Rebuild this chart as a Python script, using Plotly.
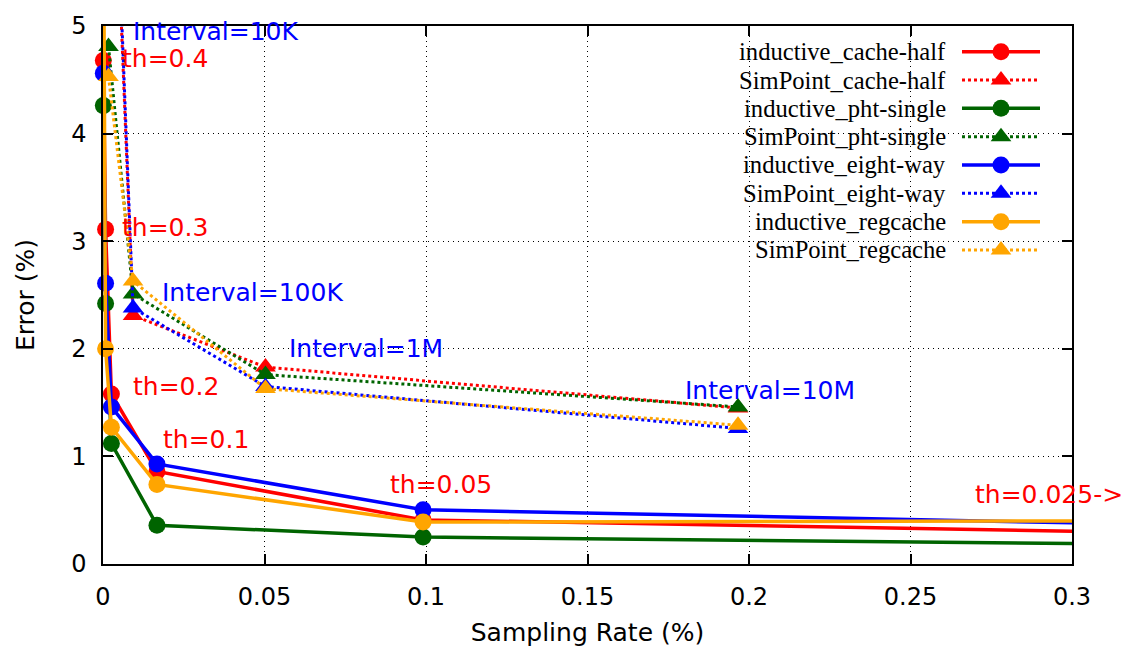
import plotly.graph_objects as go

# ---------------- data ----------------
th_rate = [0.0001, 0.0008, 0.0026, 0.0167, 0.0991, 0.5]
ind_cache_half = [4.68, 3.11, 1.58, 0.86, 0.41, 0.20]
ind_pht_single = [4.26, 2.42, 1.12, 0.36, 0.25, 0.13]
ind_eight_way = [4.56, 2.61, 1.46, 0.93, 0.505, 0.26]
ind_regcache = [6.5, 2.00, 1.27, 0.74, 0.39, 0.41]

sp_rate = [0.0017, 0.0093, 0.0503, 0.1966]
sp_cache_half = [8.0, 2.31, 1.83, 1.45]
sp_pht_single = [4.81, 2.51, 1.76, 1.46]
sp_eight_way = [8.2, 2.38, 1.65, 1.26]
sp_regcache = [4.53, 2.63, 1.63, 1.29]

x_ticks = [0, 0.05, 0.1, 0.15, 0.2, 0.25, 0.3]
x_ticklabels = ["0", "0.05", "0.1", "0.15", "0.2", "0.25", "0.3"]
y_ticks = [0, 1, 2, 3, 4, 5]
y_ticklabels = ["0", "1", "2", "3", "4", "5"]

series = [
    ("inductive_cache-half", th_rate, ind_cache_half, "#ff0000", "solid"),
    ("SimPoint_cache-half", sp_rate, sp_cache_half, "#ff0000", "dot"),
    ("inductive_pht-single", th_rate, ind_pht_single, "#006400", "solid"),
    ("SimPoint_pht-single", sp_rate, sp_pht_single, "#006400", "dot"),
    ("inductive_eight-way", th_rate, ind_eight_way, "#0000ff", "solid"),
    ("SimPoint_eight-way", sp_rate, sp_eight_way, "#0000ff", "dot"),
    ("inductive_regcache", th_rate, ind_regcache, "#ffa500", "solid"),
    ("SimPoint_regcache", sp_rate, sp_regcache, "#ffa500", "dot"),
]

labels = [
    ("Interval=10K", 0.0088, 4.95, "#0000ff"),
    ("th=0.4", 0.0054, 4.70, "#ff0000"),
    ("th=0.3", 0.0054, 3.13, "#ff0000"),
    ("Interval=100K", 0.0175, 2.52, "#0000ff"),
    ("Interval=1M", 0.0569, 2.00, "#0000ff"),
    ("th=0.2", 0.0088, 1.65, "#ff0000"),
    ("th=0.1", 0.0181, 1.16, "#ff0000"),
    ("th=0.05", 0.0881, 0.74, "#ff0000"),
    ("Interval=10M", 0.1795, 1.61, "#0000ff"),
    ("th=0.025->", 0.2693, 0.65, "#ff0000"),
]

# ---------------- layout constants ----------------
W, H = 1128, 655
ML, MR, MT, MB = 103, 56, 19, 91
SANS = "DejaVu Sans"
SERIF = "Liberation Serif"
DOT = "3px,3px"
SOLID_W, DOT_W = 3.5, 3
CIRC, TRI = 17, 18

fig = go.Figure()

for name, xs, ys, col, style in series:
    solid = style == "solid"
    fig.add_trace(go.Scatter(
        x=xs, y=ys, name=name, mode="lines+markers",
        line=dict(color=col, width=SOLID_W if solid else DOT_W, dash="solid" if solid else DOT),
        marker=dict(symbol="circle" if solid else "triangle-up", size=CIRC if solid else TRI,
                    color=col, opacity=1, line=dict(width=0)),
        cliponaxis=False, showlegend=False,
    ))

for text, lx, ly, col in labels:
    fig.add_annotation(x=lx, y=ly, xref="x", yref="y", text=text, showarrow=False,
                       xanchor="left", yanchor="middle",
                       font=dict(family=SANS, size=25, color=col))

# opaque key box (covers grid)
fig.add_shape(type="rect", xref="paper", yref="paper",
              x0=(629 - ML) / (W - ML - MR), x1=1.0,
              y0=(H - MB - 263) / (H - MT - MB), y1=1.0,
              fillcolor="white", line=dict(width=0), layer="between")

# custom key (pixel-unit overlay axes)
KEY_TEXT_X = 948
KEY_L0, KEY_L1 = 962, 1040
KEY_Y0, KEY_DY = 45, 28.7
for i, (name, xs, ys, col, style) in enumerate(series):
    ry = KEY_Y0 + i * KEY_DY
    solid = style == "solid"
    fig.add_trace(go.Scatter(
        x=[KEY_L0, (KEY_L0 + KEY_L1) / 2, KEY_L1], y=[ry, ry, ry],
        xaxis="x2", yaxis="y2", mode="lines+markers", showlegend=False, hoverinfo="skip",
        line=dict(color=col, width=SOLID_W if solid else DOT_W, dash="solid" if solid else DOT),
        marker=dict(symbol="circle" if solid else "triangle-up",
                    size=[0, CIRC if solid else TRI, 0],
                    color=col, opacity=1, line=dict(width=0)),
        cliponaxis=False,
    ))
    fig.add_annotation(x=KEY_TEXT_X, y=ry, xref="x2", yref="y2", text=name, showarrow=False,
                       xanchor="right", yanchor="middle",
                       font=dict(family=SERIF, size=24.6, color="black"))

axis_common = dict(
    showline=True, linecolor="black", linewidth=1.5, mirror="allticks",
    ticks="inside", ticklen=10, tickwidth=1.5, tickcolor="black",
    showgrid=True, gridcolor="black", gridwidth=1, griddash="1px,4px",
    zeroline=False, tickfont=dict(family=SANS, size=24, color="black"),
)

fig.update_layout(
    width=W, height=H,
    margin=dict(l=ML, r=MR, t=MT, b=MB, pad=0),
    paper_bgcolor="white", plot_bgcolor="white",
    font=dict(family=SANS, size=24, color="black"),
    xaxis=dict(range=[0, 0.3], tickmode="array", tickvals=x_ticks, ticktext=x_ticklabels,
               title=dict(text="Sampling Rate (%)", font=dict(family=SANS, size=25), standoff=14),
               ticklabelstandoff=10, **axis_common),
    yaxis=dict(range=[0, 5], tickmode="array", tickvals=y_ticks, ticktext=y_ticklabels,
               title=dict(text="Error (%)", font=dict(family=SANS, size=25), standoff=29),
               ticklabelstandoff=10, **axis_common),
    xaxis2=dict(overlaying="x", range=[ML, W - MR], visible=False, showgrid=False, zeroline=False),
    yaxis2=dict(overlaying="y", range=[H - MB, MT], visible=False, showgrid=False, zeroline=False),
    showlegend=False,
)

fig.write_html("out.html")
